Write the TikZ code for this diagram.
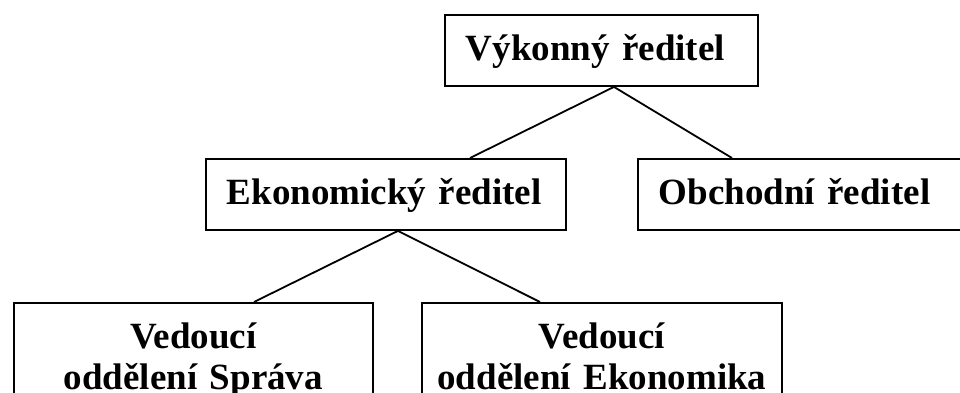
\documentclass[tikz,border=0pt]{standalone}
\usepackage{fontspec}
\setmainfont{Liberation Serif}
\usetikzlibrary{calc}
\begin{document}
\begin{tikzpicture}[x=1pt,y=-1pt,
  orgbox/.style={draw, line width=1.9pt, rectangle, inner xsep=21pt, inner ysep=0pt,
    minimum height=71pt, text height=27pt, text depth=7pt, align=left,
    anchor=north west, font=\fontsize{37}{41}\selectfont\bfseries},
  lowbox/.style={draw, line width=1.9pt, rectangle, inner xsep=0pt, inner ysep=20pt,
    align=center, anchor=north west, font=\fontsize{37}{41}\selectfont\bfseries},
  link/.style={line width=1.8pt}]
\useasboundingbox (0,0) rectangle (960,392);
\clip (0,0) rectangle (960,392);

% management levels
\node[orgbox, text width=271pt] (ceo) at (444,14) {Výkonný ředitel};
\node[orgbox, text width=318pt] (econ) at (205,158) {Ekonomický ředitel};
\node[orgbox, text width=300pt] (sales) at (637,158) {Obchodní ředitel};
\node[lowbox, text width=359pt] (admin) at (13,302) {Vedoucí\\oddělení Správa};
\node[lowbox, text width=360pt] (econdept) at (421,302) {Vedoucí\\oddělení Ekonomika};

% reporting lines
\coordinate (ceojoin) at ($(ceo.south)+(12.5,0)$);
\coordinate (econjoin) at ($(econ.south)+(12,0)$);
\draw[link] (ceojoin) -- ($(econ.north west)+(265,0)$);
\draw[link] (ceojoin) -- ($(sales.north west)+(95,0)$);
\draw[link] (econjoin) -- ($(admin.north west)+(241,0)$);
\draw[link] (econjoin) -- ($(econdept.north west)+(119,0)$);
\end{tikzpicture}
\end{document}
